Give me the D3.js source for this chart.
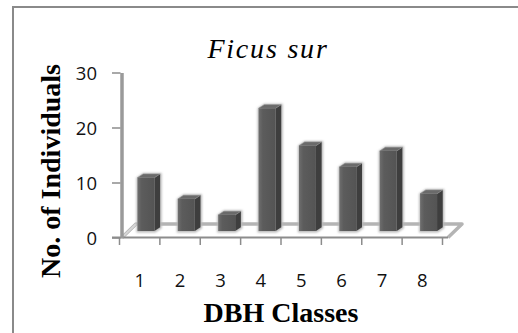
<!DOCTYPE html>
<html>
<head>
<meta charset="utf-8">
<script src="https://cdn.jsdelivr.net/npm/d3@7"></script>
<style>
  html, body { margin: 0; padding: 0; background: #fff; }
  svg { display: block; }
</style>
</head>
<body>
<svg id="chart" width="518" height="333"></svg>
<script>
// Number of Ficus sur individuals in each DBH class
const categories = ["1", "2", "3", "4", "5", "6", "7", "8"];
const individuals = [10, 6, 3, 23, 16, 12, 15, 7];
const yTicks = [0, 10, 20, 30];

const title = "Ficus sur";
const xTitle = "DBH Classes";
const yTitle = "No. of Individuals";

const svg = d3.select("#chart");

// depth offset of the 3D floor and of each column's side/top faces
const floorDepth = { dx: 14, dy: 13.5 };
const colDepth = { dx: 5.7, dy: 3.7 };

const x = d3.scaleBand().domain(categories).range([119.5, 442.5]);
const yAxisScale = d3.scaleLinear().domain([0, 30]).range([238, 73]);
// columns stand mid-way into the floor, so they use a shifted baseline
const yBar = d3.scaleLinear().domain([0, 30]).range([231, 71]);

// outer frame
svg.append("rect")
  .attr("x", 13).attr("y", 7)
  .attr("width", 520).attr("height", 340)
  .attr("fill", "none").attr("stroke", "#8a8a8a").attr("stroke-width", 2);

// floor plate
const fx0 = 122, fx1 = 448, fy = 237.5;
svg.append("path")
  .attr("d", `M${fx0},${fy} L${fx0 + floorDepth.dx},${fy - floorDepth.dy} L${fx1 + floorDepth.dx},${fy - floorDepth.dy} L${fx1},${fy}`)
  .attr("fill", "none").attr("stroke", "#b4b4b4").attr("stroke-width", 3.5)
  .attr("stroke-linejoin", "round");
svg.append("line")
  .attr("x1", fx0).attr("x2", fx0 + floorDepth.dx)
  .attr("y1", fy).attr("y2", fy - floorDepth.dy)
  .attr("stroke", "#d6d6d6").attr("stroke-width", 2);

// x axis (front edge of the floor)
const xAxis = d3.axisBottom(x).tickSize(0).tickFormat("");
const gx = svg.append("g").attr("transform", `translate(0,${fy})`).call(xAxis);
gx.select(".domain").remove();
gx.append("line")
  .attr("x1", 112).attr("x2", fx1).attr("y1", 0).attr("y2", 0)
  .attr("stroke", "#8c8c8c").attr("stroke-width", 2.2);
// tick marks at the band boundaries
const boundaries = categories.map(c => x(c)).concat([x.range()[1]]);
gx.selectAll("line.bnd").data(boundaries).join("line")
  .attr("class", "bnd")
  .attr("x1", d => d).attr("x2", d => d)
  .attr("y1", 0).attr("y2", 7.5)
  .attr("stroke", "#8c8c8c").attr("stroke-width", 1.5);
gx.selectAll("text.cat").data(categories).join("text")
  .attr("class", "cat")
  .attr("x", d => x(d) + x.bandwidth() / 2)
  .attr("y", 49.5)
  .attr("text-anchor", "middle")
  .attr("font-family", "'Open Sans', 'Noto Sans', sans-serif")
  .attr("font-size", 18.5)
  .attr("fill", "#111")
  .text(d => d);

// y axis
const yAxis = d3.axisLeft(yAxisScale).tickValues(yTicks).tickSize(0).tickFormat("");
const gy = svg.append("g").attr("transform", "translate(122,0)").call(yAxis);
gy.select(".domain").remove();
gy.append("line")
  .attr("x1", 0).attr("x2", 0)
  .attr("y1", yAxisScale(30)).attr("y2", yAxisScale(0))
  .attr("stroke", "#9a9a9a").attr("stroke-width", 3.5);
gy.selectAll("line.tk").data(yTicks).join("line")
  .attr("class", "tk")
  .attr("x1", -10).attr("x2", -1.5)
  .attr("y1", d => yAxisScale(d)).attr("y2", d => yAxisScale(d))
  .attr("stroke", "#8c8c8c").attr("stroke-width", 1.5);
gy.selectAll("text.val").data(yTicks).join("text")
  .attr("class", "val")
  .attr("x", -25)
  .attr("y", d => yAxisScale(d) + 7)
  .attr("text-anchor", "end")
  .attr("font-family", "'Open Sans', 'Noto Sans', sans-serif")
  .attr("font-size", 18.5)
  .attr("fill", "#111")
  .text(d => d);

// shading for the column faces
const defs = svg.append("defs");
const grad = defs.append("linearGradient").attr("id", "frontFace")
  .attr("x1", "0%").attr("x2", "100%").attr("y1", "0%").attr("y2", "0%");
grad.append("stop").attr("offset", "0%").attr("stop-color", "#6e6e6e");
grad.append("stop").attr("offset", "25%").attr("stop-color", "#5c5c5c");
grad.append("stop").attr("offset", "100%").attr("stop-color", "#545454");
const blur = defs.append("filter").attr("id", "soft")
  .attr("x", "-30%").attr("y", "-10%").attr("width", "160%").attr("height", "130%");
blur.append("feGaussianBlur").attr("stdDeviation", 1.2);

// 3D columns
const bw = x.bandwidth() * 0.42;
const bars = svg.append("g").selectAll("g.col")
  .data(categories.map((c, i) => ({ c, v: individuals[i] })))
  .join("g").attr("class", "col");

bars.each(function (d) {
  const g = d3.select(this);
  const x0 = x(d.c) + x.bandwidth() * 0.445;
  const x1 = x0 + bw;
  const yt = yBar(d.v), yb = yBar(0);
  const { dx, dy } = colDepth;
  // soft shadow behind the column
  g.append("path")
    .attr("d", `M${x0 - 1},${yt} L${x0 + dx},${yt - dy - 1} L${x1 + dx + 1.5},${yt - dy - 1} L${x1 + dx + 1.5},${yb - dy + 1} L${x1 + 1},${yb + 1.5} L${x0 - 1},${yb + 1.5} Z`)
    .attr("fill", "#b8b8b8").attr("filter", "url(#soft)");
  // side face
  g.append("path")
    .attr("d", `M${x1},${yt} L${x1 + dx},${yt - dy} L${x1 + dx},${yb - dy} L${x1},${yb} Z`)
    .attr("fill", "#3e3e3e");
  // top face
  g.append("path")
    .attr("d", `M${x0},${yt} L${x0 + dx},${yt - dy} L${x1 + dx},${yt - dy} L${x1},${yt} Z`)
    .attr("fill", "#6a6a6a").attr("stroke", "#8e8e8e").attr("stroke-width", 0.6);
  // front face
  g.append("rect")
    .attr("x", x0).attr("y", yt)
    .attr("width", bw).attr("height", yb - yt)
    .attr("fill", "url(#frontFace)");
});

// titles
svg.append("text")
  .attr("x", 268).attr("y", 58)
  .attr("text-anchor", "middle")
  .attr("font-family", "'Liberation Serif', 'DejaVu Serif', serif")
  .attr("font-style", "italic")
  .attr("font-size", 28)
  .attr("letter-spacing", 1.8)
  .attr("fill", "#000")
  .text(title);

svg.append("text")
  .attr("x", 281).attr("y", 322)
  .attr("text-anchor", "middle")
  .attr("font-family", "'Liberation Serif', 'DejaVu Serif', serif")
  .attr("font-weight", "bold")
  .attr("font-size", 28)
  .attr("fill", "#000")
  .text(xTitle);

svg.append("text")
  .attr("transform", "translate(60,171) rotate(-90)")
  .attr("text-anchor", "middle")
  .attr("font-family", "'Liberation Serif', 'DejaVu Serif', serif")
  .attr("font-weight", "bold")
  .attr("font-size", 28)
  .attr("fill", "#000")
  .text(yTitle);
</script>
</body>
</html>
